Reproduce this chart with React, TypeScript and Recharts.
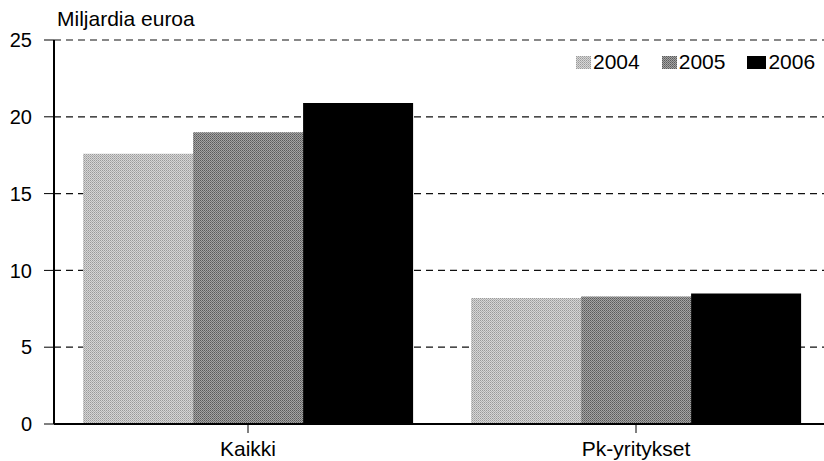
import React from "react";
import { BarChart, Bar, XAxis, YAxis, CartesianGrid } from "recharts";

const categories = ["Kaikki", "Pk-yritykset"];
const years = ["2004", "2005", "2006"];
const values2004 = [17.6, 8.2];
const values2005 = [19.0, 8.3];
const values2006 = [20.9, 8.5];
const yTicks = [0, 5, 10, 15, 20, 25];
const unitLabel = "Miljardia euroa";

const data = categories.map((c, i) => ({
  name: c,
  y2004: values2004[i],
  y2005: values2005[i],
  y2006: values2006[i],
}));

const FONT = "'Liberation Sans', Arial, sans-serif";
const fills = ["url(#pat2004)", "url(#pat2005)", "#000000"];
const keys = ["y2004", "y2005", "y2006"];

const Swatch = ({ idx }: { idx: number }) => (
  <svg width={idx === 2 ? 19 : 15} height={13} style={{ display: "block", marginRight: 2 }}>
    <defs>
      <pattern id={`lp${idx}`} width="2" height="2" patternUnits="userSpaceOnUse">
        <rect width="2" height="2" fill={idx === 0 ? "#d6d6d6" : "#a4a4a4"} />
        <rect width="1" height="1" fill={idx === 0 ? "#9a9a9a" : "#5a5a5a"} />
        <rect x="1" y="1" width="1" height="1" fill={idx === 0 ? "#b0b0b0" : "#707070"} />
      </pattern>
    </defs>
    <rect width={idx === 2 ? 19 : 15} height={13} fill={idx === 2 ? "#000" : `url(#lp${idx})`} />
  </svg>
);

export default function App() {
  return (
    <div style={{ position: "absolute", left: 0, top: 0, width: 824, height: 461, overflow: "hidden", background: "#fff" }}>
      <BarChart
        width={830}
        height={461}
        data={data}
        margin={{ top: 40, right: 0, bottom: 0, left: 0 }}
        barCategoryGap="7.5%"
        barGap={0}
      >
        <defs>
          <pattern id="pat2004" width="2" height="2" patternUnits="userSpaceOnUse">
            <rect width="2" height="2" fill="#d6d6d6" />
            <rect width="1" height="1" fill="#9a9a9a" />
            <rect x="1" y="1" width="1" height="1" fill="#b0b0b0" />
          </pattern>
          <pattern id="pat2005" width="2" height="2" patternUnits="userSpaceOnUse">
            <rect width="2" height="2" fill="#a4a4a4" />
            <rect width="1" height="1" fill="#5a5a5a" />
            <rect x="1" y="1" width="1" height="1" fill="#707070" />
          </pattern>
        </defs>
        <CartesianGrid vertical={false} stroke="#111" strokeWidth={1.2} strokeDasharray="7 5" />
        <XAxis
          dataKey="name"
          height={37}
          tickSize={9}
          tickMargin={8}
          axisLine={{ stroke: "#000", strokeWidth: 2 }}
          tickLine={{ stroke: "#000", strokeWidth: 1 }}
          tick={{ fill: "#000", fontSize: 21, fontFamily: FONT }}
        />
        <YAxis
          domain={[0, 25]}
          ticks={yTicks}
          width={54}
          tickSize={10}
          tickMargin={12}
          interval={0}
          axisLine={{ stroke: "#000", strokeWidth: 2 }}
          tickLine={{ stroke: "#000", strokeWidth: 1 }}
          tick={{ fill: "#000", fontSize: 20, fontFamily: FONT }}
        />
        {keys.map((k, i) => (
          <Bar key={k} dataKey={k} name={years[i]} fill={fills[i]} isAnimationActive={false} />
        ))}
      </BarChart>
      <div
        style={{
          position: "absolute",
          left: 57,
          top: 7,
          fontFamily: FONT,
          fontSize: 21,
          lineHeight: "24px",
          color: "#000",
        }}
      >
        {unitLabel}
      </div>
      <div
        style={{
          position: "absolute",
          left: 576,
          top: 50,
          display: "flex",
          alignItems: "center",
          fontFamily: FONT,
          fontSize: 21,
          lineHeight: "24px",
          color: "#000",
        }}
      >
        {years.map((y, i) => (
          <div key={y} style={{ display: "flex", alignItems: "center", marginRight: i < 2 ? 22 : 0 }}>
            <Swatch idx={i} />
            <span>{y}</span>
          </div>
        ))}
      </div>
    </div>
  );
}
